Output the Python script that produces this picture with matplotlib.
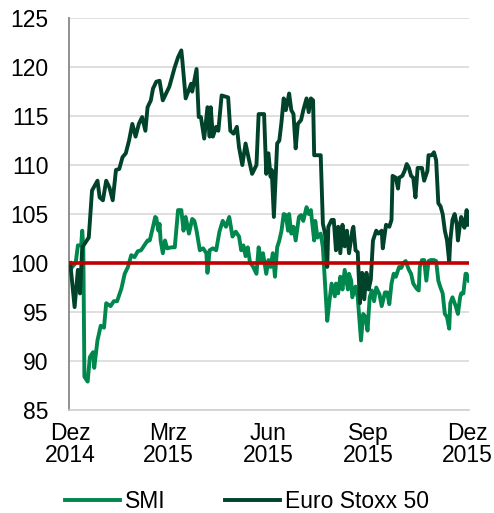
import pandas as pd
import matplotlib
matplotlib.use('Agg')
import matplotlib.pyplot as plt

plt.rcParams['font.family'] = ['Liberation Sans', 'DejaVu Sans']

# Index (Start = 100), Tage seit 01.12.2014
start = pd.Timestamp('2014-12-01')

esx_tage = [0, 4, 7, 9, 11, 17, 20, 25, 27, 30, 33, 36, 39, 42, 45, 48, 51, 54, 57, 60,
            63, 66, 69, 71, 74, 76, 79, 82, 85, 91, 96, 99, 102, 103, 106, 111, 112, 116, 118, 120,
            123, 126, 128, 129, 131, 134, 136, 139, 145, 147, 150, 153, 155, 158, 161, 164, 167, 171, 173, 178,
            180, 182, 184, 185, 187, 190, 192, 194, 196, 198, 201, 203, 205, 207, 209, 212, 214, 217, 219, 221,
            223, 224, 230, 232, 234, 236, 237, 240, 242, 244, 246, 248, 250, 252, 254, 256, 259, 260, 262, 264,
            266, 268, 270, 272, 274, 276, 278, 281, 283, 286, 287, 290, 293, 295, 296, 299, 301, 302, 305, 307,
            309, 311, 313, 315, 317, 319, 323, 325, 328, 329, 332, 334, 336, 338, 340, 342, 344, 346, 348, 349,
            351, 353, 355, 356, 358, 359, 361, 362, 364, 365]
esx_werte = [100.0, 95.5, 99.3, 96.9, 101.6, 102.6, 107.4, 108.4, 106.7, 106.4, 108.4, 107.7, 106.4, 109.5, 109.6, 110.8, 111.2, 112.5, 114.2, 112.9,
             114.2, 114.9, 113.5, 115.9, 116.6, 117.8, 118.5, 118.6, 116.6, 118.0, 120.0, 121.0, 121.7, 120.6, 116.8, 118.3, 117.5, 119.8, 114.9, 114.9,
             112.7, 115.9, 112.9, 115.9, 112.9, 113.9, 113.5, 117.1, 116.9, 113.5, 113.2, 113.9, 111.8, 110.0, 112.2, 110.6, 109.1, 110.0, 115.2, 115.2,
             109.1, 111.2, 108.8, 109.5, 104.7, 112.2, 112.5, 114.4, 116.8, 115.6, 117.3, 115.6, 115.2, 111.7, 114.2, 114.6, 115.6, 116.8, 115.4, 116.8,
             116.6, 111.0, 111.0, 104.0, 103.0, 99.6, 103.7, 104.4, 104.4, 101.3, 103.7, 101.0, 103.9, 101.7, 103.3, 101.0, 103.3, 103.7, 101.3, 101.1,
             95.9, 99.0, 96.3, 99.0, 97.3, 98.3, 102.3, 103.3, 103.0, 103.3, 101.5, 103.9, 103.7, 104.4, 108.9, 108.7, 107.6, 108.7, 108.9, 109.4,
             110.1, 109.7, 108.9, 108.7, 106.7, 109.7, 109.7, 108.4, 109.4, 111.0, 111.0, 111.3, 110.5, 106.1, 105.8, 105.0, 103.3, 102.3, 100.1, 102.3,
             104.4, 105.0, 103.9, 102.3, 104.0, 104.7, 103.9, 103.6, 105.4, 103.9]

smi_tage = [0, 1, 5, 7, 10, 11, 12, 13, 16, 18, 21, 22, 25, 28, 31, 33, 37, 40, 43, 47,
            50, 53, 56, 59, 62, 65, 68, 71, 73, 76, 78, 79, 81, 82, 83, 85, 87, 89, 93, 96,
            99, 102, 104, 106, 109, 112, 114, 116, 119, 122, 125, 126, 128, 131, 134, 137, 140, 143, 146, 149,
            152, 155, 157, 159, 161, 163, 165, 168, 171, 173, 175, 177, 180, 182, 184, 186, 188, 190, 192, 194,
            196, 198, 200, 201, 203, 205, 207, 210, 212, 214, 217, 219, 221, 222, 224, 225, 227, 230, 232, 234,
            236, 238, 240, 243, 244, 246, 248, 250, 252, 255, 256, 258, 259, 262, 264, 267, 269, 271, 273, 275,
            277, 279, 281, 284, 286, 289, 291, 293, 295, 297, 299, 302, 304, 306, 308, 311, 313, 315, 318, 320,
            321, 323, 325, 327, 329, 331, 334, 336, 338, 340, 342, 344, 346, 348, 349, 351, 354, 356, 358, 359,
            361, 363, 364, 366]
smi_werte = [100.0, 99.5, 100.0, 101.8, 101.8, 103.3, 101.5, 88.4, 87.9, 90.4, 90.9, 89.3, 92.1, 93.6, 93.4, 95.9, 95.6, 96.1, 96.1, 97.4,
             98.9, 99.6, 100.8, 100.6, 101.2, 101.3, 101.8, 102.3, 102.3, 103.7, 104.7, 104.6, 103.3, 104.0, 102.3, 101.0, 102.3, 101.5, 101.6, 101.6,
             105.4, 105.4, 103.3, 104.7, 103.0, 104.5, 104.3, 103.3, 101.3, 101.5, 101.0, 99.0, 101.3, 101.5, 101.3, 103.2, 104.3, 103.7, 104.7, 102.7,
             103.2, 102.7, 101.3, 101.8, 100.7, 101.6, 100.1, 99.6, 98.9, 101.6, 100.3, 101.0, 98.9, 100.3, 99.6, 101.0, 98.6, 101.6, 102.3, 103.3,
             105.0, 104.9, 103.3, 105.0, 103.0, 103.7, 102.3, 104.7, 104.9, 104.3, 105.7, 105.0, 105.4, 104.3, 102.3, 104.3, 102.6, 103.0, 101.6, 97.9,
             94.1, 96.1, 97.9, 96.6, 97.9, 96.9, 98.6, 97.3, 99.3, 97.3, 98.9, 98.2, 96.5, 97.6, 96.5, 92.1, 94.8, 94.5, 93.1, 96.5,
             97.2, 96.1, 97.5, 96.8, 95.6, 97.0, 97.0, 95.8, 97.9, 98.9, 98.6, 99.6, 99.5, 100.0, 100.2, 99.3, 98.9, 97.9, 97.4, 97.2,
             99.6, 100.3, 100.3, 98.2, 100.2, 100.3, 100.3, 100.2, 98.2, 97.5, 96.9, 94.8, 94.5, 93.3, 95.9, 96.5, 95.6, 94.8, 96.5, 96.9,
             96.9, 98.9, 98.9, 98.2]

ticks = ['2014-12-01', '2015-03-01', '2015-06-01', '2015-09-01', '2015-12-01']
tick_labels = ['Dez\n2014', 'Mrz\n2015', 'Jun\n2015', 'Sep\n2015', 'Dez\n2015']

esx_x = start + pd.to_timedelta(esx_tage, unit='D')
smi_x = start + pd.to_timedelta(smi_tage, unit='D')

fig = plt.figure(figsize=(4.94, 5.13), dpi=100)
ax = fig.add_axes([0.14, 0.2008, 0.809, 0.764])

ax.plot(smi_x, smi_werte, color='#00874E', lw=2.8, label='SMI', zorder=3)
ax.plot(esx_x, esx_werte, color='#00432A', lw=2.8, label='Euro Stoxx 50', zorder=4)
ax.axhline(100, color='#C00000', lw=2.6, zorder=5)

ax.set_ylim(85, 125)
ax.set_yticks(range(85, 126, 5))
ax.set_xlim(start - pd.Timedelta(days=1), pd.Timestamp('2015-12-02'))
ax.set_xticks(pd.to_datetime(ticks))
ax.set_xticklabels(tick_labels, linespacing=0.9)

ax.grid(axis='y', color='#D9D9D9', lw=1.2)
ax.set_axisbelow(True)
for s in ['top', 'right']:
    ax.spines[s].set_visible(False)
ax.spines['left'].set_color('#878787')
ax.spines['left'].set_linewidth(1.3)
ax.spines['bottom'].set_color('#D0D0D0')
ax.spines['bottom'].set_linewidth(1.2)
ax.tick_params(axis='both', length=0, labelsize=16.5, colors='black')
ax.tick_params(axis='y', pad=15)
ax.tick_params(axis='x', pad=9)

fig.legend(loc='center', bbox_to_anchor=(0.5, 0.023), ncol=2, frameon=False,
           fontsize=16.5, handlelength=2.4, handletextpad=0.2, columnspacing=2.6,
           borderaxespad=0, borderpad=0)

fig.savefig('out.png', dpi=100)
